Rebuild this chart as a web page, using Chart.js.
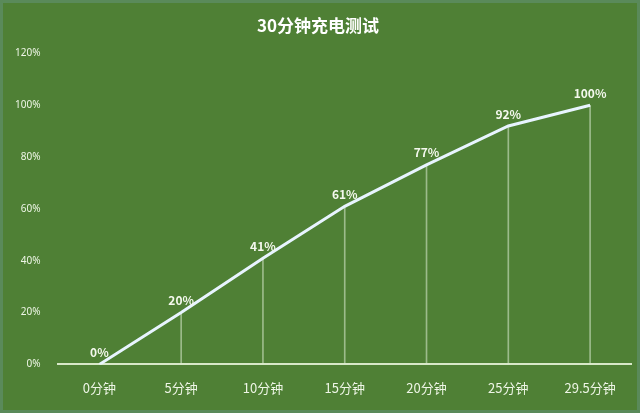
<!DOCTYPE html><html><head><meta charset="utf-8">
<script src="https://cdn.jsdelivr.net/npm/chart.js@4"></script>
<style>html,body{margin:0;padding:0;background:#4f8035}#w{width:640px;height:413px;box-sizing:border-box;border:3px solid #5a8a5a;background:#4f8035}canvas{display:block}</style></head><body>
<div id="w"><canvas id="c" width="634" height="407"></canvas></div>
<script>
const categories=["0分钟","5分钟","10分钟","15分钟","20分钟","25分钟","29.5分钟"];
const values=[0,20,41,61,77,92,100];
const yTicks=[0,20,40,60,80,100,120];
const labelsPlugin={id:'lbl',afterDatasetsDraw(ch){const c=ch.ctx;const m=ch.getDatasetMeta(1);c.save();c.font='bold 12px "Noto Sans CJK SC",sans-serif';c.fillStyle='#f4f8ee';c.textAlign='center';c.textBaseline='bottom';m.data.forEach((p,i)=>c.fillText(values[i]+'%',p.x,p.y-6));c.restore();}};
new Chart(document.getElementById('c'),{
data:{labels:categories,datasets:[
{type:'bar',data:values,barThickness:1,backgroundColor:'rgba(220,235,210,0.55)',order:2},
{type:'line',data:values,borderColor:'#e8f4ff',borderWidth:3,pointRadius:0,tension:0,order:1}
]},
options:{responsive:false,animation:false,devicePixelRatio:1,
layout:{padding:{left:2,right:6,top:4,bottom:6}},
plugins:{legend:{display:false},tooltip:{enabled:false},
title:{display:true,text:'30分钟充电测试',color:'#ffffff',font:{size:17,weight:'bold',family:'"Noto Sans CJK SC",sans-serif'},padding:{top:8,bottom:18}}},
scales:{
x:{offset:true,grid:{display:false},border:{color:'#d8e8c8',width:2},ticks:{color:'#eef5e6',font:{size:13,family:'"Noto Sans CJK SC",sans-serif'},padding:8}},
y:{min:0,max:120,afterBuildTicks(a){a.ticks=yTicks.map(v=>({value:v}));},grid:{display:false},border:{display:false},ticks:{color:'#eef5e6',font:{size:10,family:'"Noto Sans",sans-serif'},padding:10,callback:v=>v+'%'}}
}}, plugins:[labelsPlugin]});
</script></body></html>
